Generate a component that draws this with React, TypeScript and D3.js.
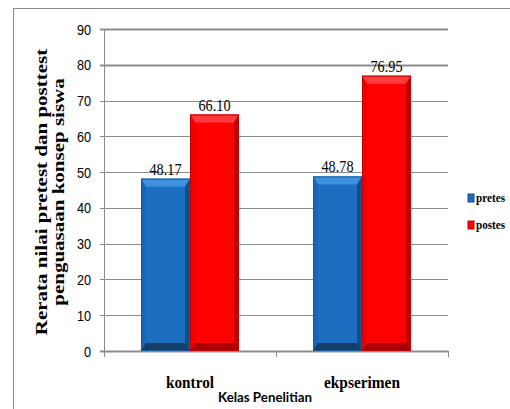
import React from "react";
import * as d3 from "d3";

const categories = ["kontrol", "ekpserimen"];
const series = ["pretes", "postes"];
const pretesValues = [48.17, 48.78];
const postesValues = [66.1, 76.95];
const yTicks = [0, 10, 20, 30, 40, 50, 60, 70, 80, 90];
const yTitleLines = ["Rerata nilai pretest dan posttest", "penguasaan konsep siswa"];
const xTitle = "Kelas Penelitian";

const W = 510;
const H = 409;
const plot = { left: 104, right: 448, top: 29, bottom: 351 };

type Shade = { face: string; top: string; left: string; right: string; bottom: string; edge: string };
const shades: Record<string, Shade> = {
  pretes: { face: "#1C6FC0", top: "#3E91DE", left: "#1866B3", right: "#0F4C88", bottom: "#123F6C", edge: "#155A9C" },
  postes: { face: "#FF0000", top: "#FF3B3B", left: "#F00000", right: "#C20000", bottom: "#A80000", edge: "#C00000" },
};

const SQ = 0.82; // horizontal condensing applied to the text

function Bar({ x, y, w, h, s }: { x: number; y: number; w: number; h: number; s: Shade }) {
  const bs = 5; // side bevel
  const bt = 8; // top / bottom bevel
  const x2 = x + w;
  const y2 = y + h;
  const pts = (a: number[][]) => a.map((p) => p.join(",")).join(" ");
  return (
    <g>
      <rect x={x} y={y} width={w} height={h} fill={s.face} />
      <polygon points={pts([[x, y], [x2, y], [x2 - bs, y + bt], [x + bs, y + bt]])} fill={s.top} />
      <polygon points={pts([[x, y], [x + bs, y + bt], [x + bs, y2 - bt], [x, y2]])} fill={s.left} />
      <polygon points={pts([[x2, y], [x2, y2], [x2 - bs, y2 - bt], [x2 - bs, y + bt]])} fill={s.right} />
      <polygon points={pts([[x, y2], [x + bs, y2 - bt], [x2 - bs, y2 - bt], [x2, y2]])} fill={s.bottom} />
      <rect x={x + 0.5} y={y + 0.5} width={w - 1} height={h - 1} fill="none" stroke={s.edge} strokeWidth={1} />
    </g>
  );
}

export default function App() {
  const x0 = d3.scaleBand<string>().domain(categories).range([plot.left, plot.right]).padding(0);
  const x1 = d3.scaleBand<string>().domain(series).range([0, x0.bandwidth()]).paddingInner(0).paddingOuter(0.755);
  const y = d3.scaleLinear().domain([0, 90]).range([plot.bottom, plot.top]);

  const valuesBySeries: Record<string, number[]> = { pretes: pretesValues, postes: postesValues };

  const catTicks = [plot.left, ...categories.map((c) => (x0(c) as number) + x0.bandwidth())];

  return (
    <svg
      width={W}
      height={H}
      style={{ position: "absolute", left: 0, top: 0, background: "#fff" }}
      xmlns="http://www.w3.org/2000/svg"
    >
      <rect x={0} y={0} width={W} height={H} fill="#fff" />
      {/* chart area border */}
      <line x1={13} y1={8.5} x2={W} y2={8.5} stroke="#8a8a8a" strokeWidth={1} />
      <line x1={13.5} y1={8} x2={13.5} y2={H} stroke="#8a8a8a" strokeWidth={1} />

      {/* gridlines */}
      {yTicks.map((t) => (
        <line
          key={t}
          x1={plot.left - 4}
          x2={plot.right}
          y1={Math.round(y(t)) + 0.5}
          y2={Math.round(y(t)) + 0.5}
          stroke="#8c8c8c"
          strokeWidth={t === 0 ? 2 : t >= 80 ? 2 : 1}
        />
      ))}
      {/* y axis line */}
      <line x1={plot.left + 0.5} x2={plot.left + 0.5} y1={plot.top} y2={plot.bottom} stroke="#8c8c8c" strokeWidth={1} />
      {/* category ticks */}
      {catTicks.map((cx, i) => (
        <line key={i} x1={cx + 0.5} x2={cx + 0.5} y1={plot.bottom} y2={plot.bottom + 6} stroke="#8c8c8c" strokeWidth={1} />
      ))}

      {/* y tick labels */}
      {yTicks.map((t) => (
        <g key={t} transform={`translate(91, ${y(t) + 5.5}) scale(${SQ},1)`}>
          <text textAnchor="end" fontFamily="'Liberation Sans', Arial, sans-serif" fontSize={15.5} fill="#000">
            {t}
          </text>
        </g>
      ))}

      {/* bars */}
      {categories.map((c, ci) =>
        series.map((s) => {
          const v = valuesBySeries[s][ci];
          const bx = (x0(c) as number) + (x1(s) as number);
          const by = y(v);
          return (
            <g key={c + s}>
              <Bar x={bx} y={by} w={x1.bandwidth()} h={y(0) - by} s={shades[s]} />
              <text
                x={bx + x1.bandwidth() / 2}
                y={by - 4}
                textAnchor="middle"
                fontFamily="'Liberation Serif', 'Times New Roman', serif"
                fontSize={17}
                textLength={32}
                lengthAdjust="spacingAndGlyphs"
                fill="#000"
              >
                {v.toFixed(2)}
              </text>
            </g>
          );
        })
      )}

      {/* category labels */}
      {categories.map((c, i) => (
        <text
          key={c}
          x={(x0(c) as number) + x0.bandwidth() / 2}
          y={388}
          textAnchor="middle"
          fontFamily="'Liberation Serif', 'Times New Roman', serif"
          fontWeight="bold"
          fontSize={16.5}
          textLength={i === 0 ? 48 : 76}
          lengthAdjust="spacingAndGlyphs"
          fill="#000"
        >
          {c}
        </text>
      ))}

      {/* x axis title */}
      <text
        x={265}
        y={402}
        textAnchor="middle"
        fontFamily="Lato, 'Open Sans', sans-serif"
        fontWeight="bold"
        fontSize={14}
        textLength={94}
        lengthAdjust="spacingAndGlyphs"
        fill="#000"
      >
        {xTitle}
      </text>

      {/* y axis title */}
      <g transform={`translate(47, 192) scale(${SQ},1) rotate(-90)`}>
        {yTitleLines.map((line, i) => (
          <text
            key={i}
            x={0}
            y={i * 21}
            textAnchor="middle"
            fontFamily="'Liberation Serif', 'Times New Roman', serif"
            fontWeight="bold"
            fontSize={21}
            fill="#000"
          >
            {line}
          </text>
        ))}
      </g>

      {/* legend */}
      {series.map((s, i) => (
        <g key={s}>
          <rect x={468} y={194 + i * 27} width={6} height={8} fill={shades[s].face} stroke={shades[s].right} strokeWidth={1} />
          <text
            x={476}
            y={202 + i * 27}
            fontFamily="'Liberation Serif', 'Times New Roman', serif"
            fontWeight="bold"
            fontSize={12.5}
            textLength={29}
            lengthAdjust="spacingAndGlyphs"
            fill="#000"
          >
            {s}
          </text>
        </g>
      ))}
    </svg>
  );
}
